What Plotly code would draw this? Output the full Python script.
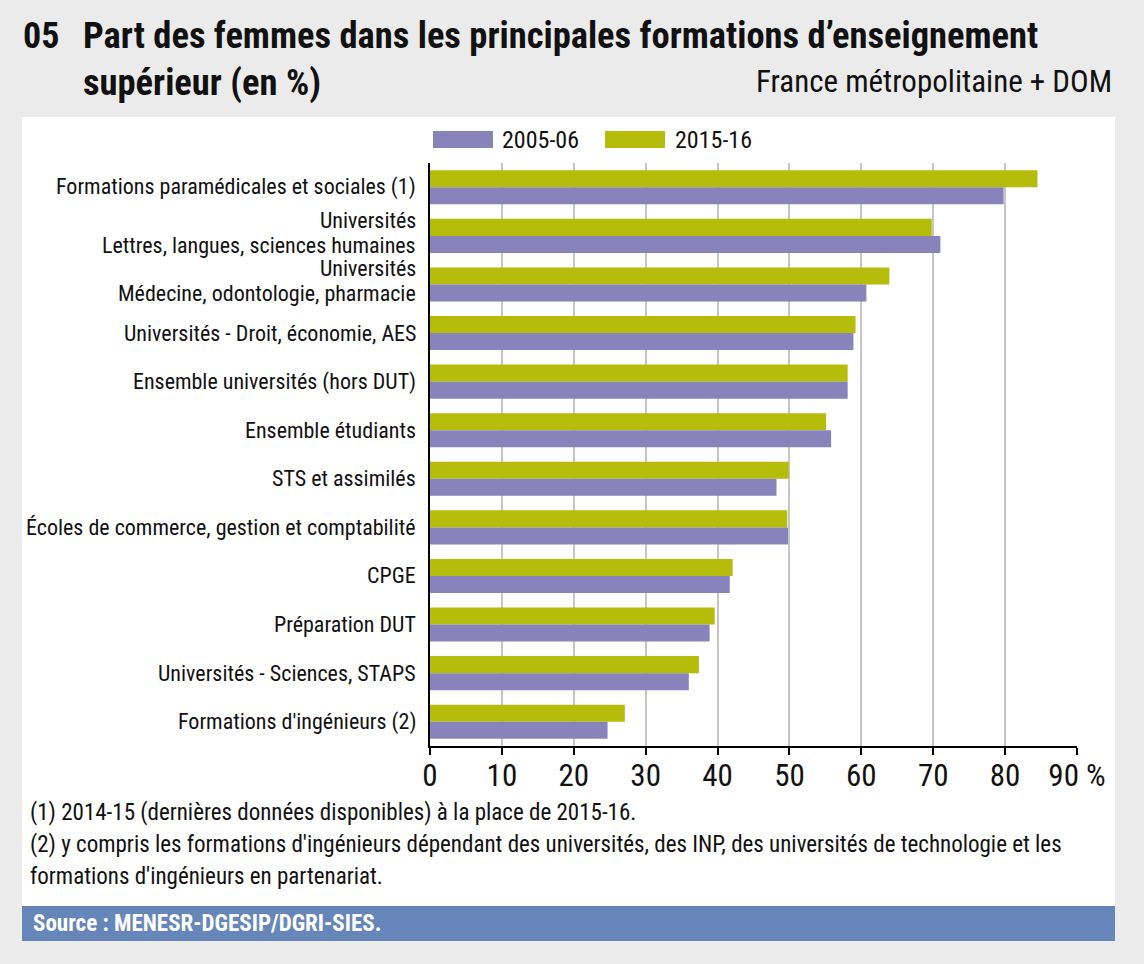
import plotly.graph_objects as go

categories = [
    "Formations paramédicales et sociales (1)",
    "Universités<br>Lettres, langues, sciences humaines",
    "Universités<br>Médecine, odontologie, pharmacie",
    "Universités - Droit, économie, AES",
    "Ensemble universités (hors DUT)",
    "Ensemble étudiants",
    "STS et assimilés",
    "Écoles de commerce, gestion et comptabilité",
    "CPGE",
    "Préparation DUT",
    "Universités - Sciences, STAPS",
    "Formations d'ingénieurs (2)",
]
v2005 = [79.8, 71.0, 60.7, 58.9, 58.1, 55.8, 48.2, 49.8, 41.7, 38.9, 36.0, 24.7]
v2015 = [84.5, 69.8, 63.9, 59.2, 58.1, 55.1, 49.9, 49.7, 42.1, 39.6, 37.4, 27.1]
series_names = ["2005-06", "2015-16"]
xticks = [0, 10, 20, 30, 40, 50, 60, 70, 80, 90]
xticklabels = ["0", "10", "20", "30", "40", "50", "60", "70", "80", "90 %"]
notes = [
    "(1) 2014-15 (dernières données disponibles) à la place de 2015-16.",
    "(2) y compris les formations d'ingénieurs dépendant des universités, des INP, des universités de technologie et les",
    "formations d'ingénieurs en partenariat.",
]

PURPLE = "#8884bb"
GREEN = "#b5bc0a"
FONT = "Liberation Sans Narrow, Arial Narrow, Roboto Condensed, Liberation Sans, sans-serif"

W, H = 1144, 964
L, R, T, B = 430, 67, 163, 218
PW, PH = W - L - R, H - T - B


def px(x):
    return (x - L) / PW


def py(y):
    return (H - B - y) / PH


fig = go.Figure()
# green drawn first so it sits on top of each pair (y axis reversed)
fig.add_trace(go.Bar(y=categories, x=v2015, name=series_names[1], orientation="h",
                     marker_color=GREEN, marker_line_width=0))
fig.add_trace(go.Bar(y=categories, x=v2005, name=series_names[0], orientation="h",
                     marker_color=PURPLE, marker_line_width=0))

shapes = [
    # white panel
    dict(type="rect", xref="paper", yref="paper", x0=px(22), x1=px(1115),
         y0=py(941), y1=py(117), fillcolor="white", line_width=0, layer="below"),
    # source band
    dict(type="rect", xref="paper", yref="paper", x0=px(22), x1=px(1115),
         y0=py(941), y1=py(906), fillcolor="#6685b8", line_width=0, layer="below"),
    # legend swatches
    dict(type="rect", xref="paper", yref="paper", x0=px(433), x1=px(493),
         y0=py(148), y1=py(131), fillcolor=PURPLE, line_width=0),
    dict(type="rect", xref="paper", yref="paper", x0=px(605), x1=px(665),
         y0=py(148), y1=py(131), fillcolor=GREEN, line_width=0),
]

annotations = [
    dict(text="<b>05</b>", x=px(21), y=py(36), xanchor="left", yanchor="middle",
         font=dict(size=36, color="#111")),
    dict(text="<b>Part des femmes dans les principales formations d’enseignement<br>supérieur (en %)</b>",
         x=px(81), y=py(12), xanchor="left", yanchor="top", align="left",
         font=dict(size=36.5, color="#111")),
    dict(text="France métropolitaine + DOM", x=px(1114), y=py(82), xanchor="right",
         yanchor="middle", font=dict(size=31, color="#111")),
    dict(text=series_names[0], x=px(500), y=py(140), xanchor="left", yanchor="middle",
         font=dict(size=24, color="#111")),
    dict(text=series_names[1], x=px(673), y=py(140), xanchor="left", yanchor="middle",
         font=dict(size=24, color="#111")),
    dict(text="<b>Source : MENESR-DGESIP/DGRI-SIES.</b>", x=px(31), y=py(923),
         xanchor="left", yanchor="middle", font=dict(size=23, color="white")),
]
for i, note in enumerate(notes):
    annotations.append(dict(text=note, x=px(28), y=py(812 + 32 * i), xanchor="left",
                            yanchor="middle", font=dict(size=23, color="#111")))

# category labels, one annotation per line so the line spacing matches
LINE = 25
for cat in categories:
    lines = cat.split("<br>")
    n = len(lines)
    for i, txt in enumerate(lines):
        annotations.append(dict(text=txt, x=px(418), y=cat, yref="y",
                                xanchor="right", yanchor="middle",
                                yshift=((n - 1) / 2 - i) * LINE + (3 if n > 1 else 0),
                                font=dict(size=22, color="#111")))

for a in annotations:
    a.setdefault("yref", "paper")
    a.update(xref="paper", showarrow=False)

fig.update_layout(
    width=W, height=H,
    margin=dict(l=L, r=R, t=T, b=B, pad=0),
    paper_bgcolor="#ebebeb",
    plot_bgcolor="white",
    font=dict(family=FONT, size=22, color="#111"),
    barmode="group",
    bargap=0.3,
    bargroupgap=0,
    shapes=shapes,
    annotations=annotations,
    showlegend=False,
)
fig.update_xaxes(range=[0, 90], tickvals=xticks, ticktext=xticklabels,
                 showgrid=True, gridcolor="#c6c6c6", gridwidth=1.5,
                 showline=True, linecolor="black", linewidth=2,
                 ticks="outside", ticklen=7, tickwidth=2, tickcolor="black",
                 tickfont=dict(size=31), ticklabelstandoff=-6, zeroline=False)
fig.update_yaxes(autorange="reversed", showline=True, linecolor="black", linewidth=2,
                 ticks="", showticklabels=False)

fig.write_html("out.html", config={"displayModeBar": False},
               post_script="document.body.style.margin='0';")
